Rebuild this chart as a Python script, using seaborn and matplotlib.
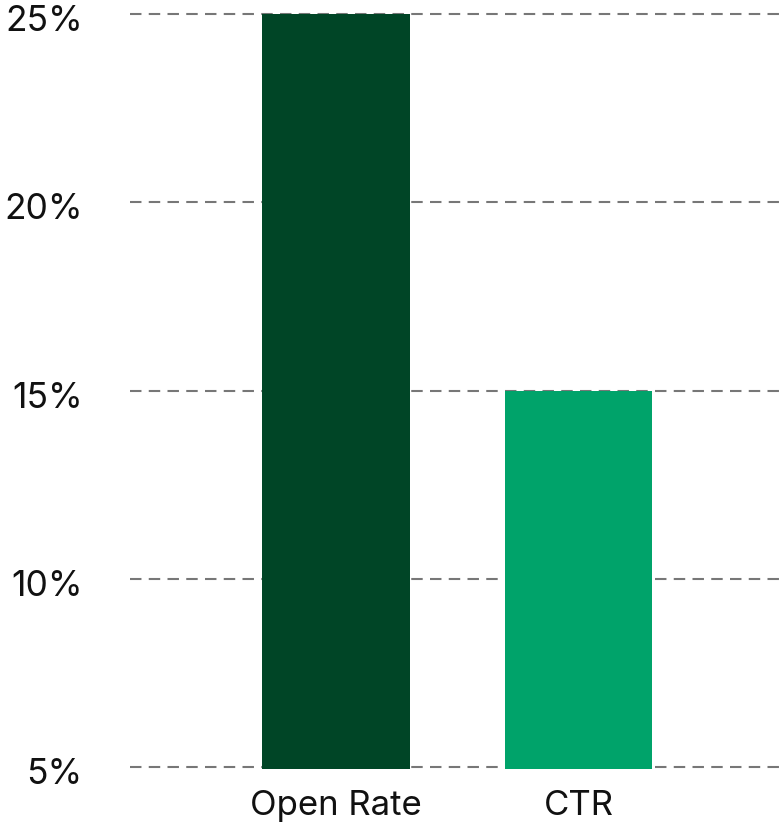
import matplotlib
matplotlib.use("Agg")
import matplotlib.pyplot as plt
import matplotlib.transforms as mtransforms
import pandas as pd
import seaborn as sns

# data
metrics = ["Open Rate", "CTR"]
rates = [25, 15]
bar_colors = ["#004526", "#00A36A"]
y_ticks = [5, 10, 15, 20, 25]

df = pd.DataFrame({"metric": metrics, "rate": rates})

sns.set_style("white")
plt.rcParams["font.family"] = ["Inter", "DejaVu Sans"]

W, H = 781, 831
fig = plt.figure(figsize=(W / 100, H / 100), dpi=100)
ax = fig.add_axes([130 / W, (831 - 768.9) / H, 651 / W, (768.9 - 12.1) / H])

sns.barplot(data=df, x="metric", y="rate", hue="metric", palette=bar_colors,
            saturation=1, width=0.61, linewidth=0, legend=False, ax=ax, zorder=3)

ax.set_ylim(4.95, 25.05)
ax.set_xlim(-0.85, 1.835)
ax.set_yticks(y_ticks)
ax.set_yticklabels([f"{t}%" for t in y_ticks])
ax.yaxis.grid(True, color="#777777", linestyle=(0, (5.5, 3.5)), linewidth=1.5, zorder=0)
ax.set_axisbelow(True)

ax.tick_params(axis="y", length=0, pad=34, labelsize=25.5, labelcolor="#111111")
ax.tick_params(axis="x", length=0, pad=15, labelsize=25, labelcolor="#111111")
ax.set_xlabel("")
ax.set_ylabel("")
sns.despine(ax=ax, left=True, bottom=True)

# y labels sit a touch below their grid lines in the reference
shift = mtransforms.ScaledTranslation(0, -4 / 100, fig.dpi_scale_trans)
for lab in ax.get_yticklabels():
    lab.set_transform(lab.get_transform() + shift)

fig.savefig("out.png", dpi=100)
plt.close(fig)
